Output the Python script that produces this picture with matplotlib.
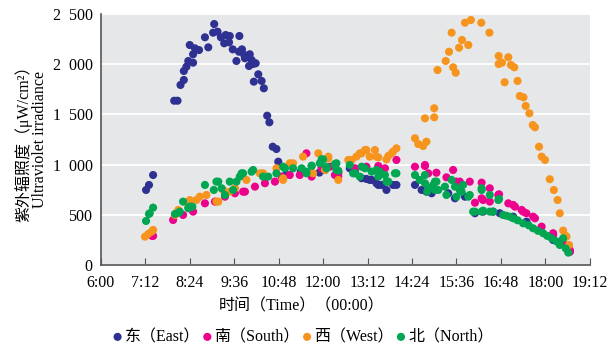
import matplotlib
matplotlib.use("Agg")
from matplotlib import pyplot as plt
from matplotlib.ticker import FuncFormatter
import numpy as np

# time in decimal hours, irradiance in uW/cm2
east_t = [7.22, 7.30, 7.41, 7.98, 8.07, 8.15, 8.24, 8.24, 8.31, 8.36, 8.40, 8.49, 8.49, 8.54,
          8.65, 8.81, 8.90, 9.03, 9.06, 9.15, 9.24, 9.33, 9.37, 9.46, 9.48, 9.56, 9.66, 9.73,
          9.74, 9.81, 9.87, 9.89, 10.00, 10.02, 10.07, 10.11, 10.13, 10.18, 10.25, 10.34, 10.40,
          10.49, 10.55, 10.64, 10.74, 10.79, 11.00, 11.40, 11.90, 12.05, 12.41,
          12.72, 12.81, 12.86, 13.04, 13.17, 13.26, 13.31, 13.44, 13.49, 13.58, 13.71, 13.89,
          13.98, 14.48, 14.66, 14.79, 14.93, 15.38, 15.56, 15.83, 16.10, 16.32, 16.59, 16.77,
          17.13, 17.49, 17.85, 18.21, 18.66]
east_v = [747, 797, 896, 1636, 1636, 1793, 1843, 1932, 1975, 2032, 2191, 2099, 2015, 2158,
          2141, 2268, 2168, 2314, 2400, 2324, 2268, 2208, 2291, 2218, 2281, 2148, 2032, 2124,
          2281, 2148, 2092, 2059, 1982, 2099, 2042, 2002, 1826, 2009, 1899, 1833, 1760,
          1487, 1421, 1178, 1155, 1029, 900, 930, 920, 946, 929,
          963, 946, 929, 864, 857, 847, 847, 814, 797, 797, 747, 797,
          797, 797, 747, 730, 714, 714, 664, 680, 515, 531, 531, 515,
          481, 431, 349, 249, 132]

south_t = [7.38, 7.41, 7.95, 8.22, 8.49, 8.81, 9.08, 9.35, 9.62, 9.84, 9.89, 10.16, 10.43,
           10.70, 10.88, 11.10, 11.37, 11.55, 11.69, 11.96, 12.18, 12.32, 12.41,
           12.41, 12.86, 13.17, 13.49, 13.67, 13.98, 14.48, 14.75, 14.75, 14.84, 15.06, 15.33,
           15.51, 15.60, 15.69, 15.96, 16.28, 16.50,
           16.10, 16.32, 16.28, 16.50, 16.73, 16.75, 17.00, 17.13, 17.18, 17.36, 17.40, 17.49,
           17.67, 17.72, 17.90, 18.21, 18.21, 18.44, 18.48, 18.66, 18.66]
south_v = [290, 289, 448, 498, 531, 614, 631, 680, 714, 730, 730, 780, 814,
           830, 880, 896, 896, 1112, 880, 963, 979, 896, 880,
           913, 963, 979, 986, 963, 1046, 979, 986, 996, 913, 919, 873,
           946, 830, 830, 830, 820, 764,
           620, 647, 664, 631, 697, 704, 614, 598, 581, 548, 531, 515,
           481, 465, 382, 316, 299, 232, 216, 149, 132]

west_t = [7.19, 7.28, 7.37, 7.41, 8.00, 8.09, 8.36, 8.40, 8.58, 8.67, 8.85, 9.12, 9.17, 9.30,
          9.48, 9.62, 9.93, 10.29, 10.38, 10.74, 10.92, 10.92, 11.10, 11.19, 11.46, 11.73,
          11.87, 12.05, 12.14, 12.14, 12.41,
          12.68, 12.77, 12.90, 12.99, 13.04, 13.13, 13.17, 13.26, 13.40, 13.44, 13.49, 13.71,
          13.76, 13.85, 13.89, 13.98,
          14.48, 14.57, 14.70, 14.79, 14.75, 15.00, 15.00, 15.09, 15.31, 15.51, 15.58, 15.40,
          15.67, 15.75, 15.92, 15.47, 15.83, 15.99, 16.27, 16.49, 16.74, 16.74, 16.83, 17.00,
          17.07, 17.16, 16.90, 17.25, 17.31, 17.41, 17.47, 17.57, 17.66, 17.72, 17.83, 17.90,
          17.99, 18.12, 18.23, 18.33, 18.39, 18.48, 18.55, 18.57, 18.64]
west_v = [282, 309, 332, 349, 498, 548, 581, 647, 647, 680, 697, 631, 631, 747,
          730, 764, 847, 913, 913, 963, 864, 847, 1013, 1013, 1079, 913,
          1112, 946, 1079, 1062, 847,
          1046, 1046, 1079, 1112, 1112, 1145, 1145, 1079, 1145, 1079, 1072, 1052,
          1086, 1112, 1129, 1162,
          1262, 1205, 1185, 1228, 1461, 1471, 1561, 1942, 2032, 1969, 1915, 2124,
          2164, 2241, 2191, 2314, 2413, 2440, 2413, 2314, 2082, 2002, 2015, 2069,
          1992, 1969, 1820, 1833, 1683, 1670, 1584, 1511, 1394, 1371, 1178, 1079,
          1046, 854, 747, 647, 515, 342, 289, 282, 199]

north_t = [7.22, 7.30, 7.32, 7.41, 8.00, 8.11, 8.13, 8.22, 8.36, 8.40, 8.47, 8.81, 9.05, 9.12,
           9.17, 9.26, 9.35, 9.48, 9.57, 9.66, 9.75, 9.80, 9.84, 10.07, 10.11, 10.38, 10.52,
           10.74, 10.92, 10.97, 11.19, 11.42, 11.55, 11.55, 11.69, 11.69, 11.91, 11.96, 12.00,
           12.09, 12.09, 12.32, 12.32, 12.36, 12.41, 12.36,
           12.72, 12.81, 12.86, 13.04, 12.99, 13.13, 13.31, 13.44, 13.49, 13.53, 13.67, 13.71,
           13.76, 13.94, 13.98,
           14.48, 14.61, 14.75, 14.75, 14.81, 14.84, 14.97, 15.02, 15.06, 15.02, 15.11, 15.29,
           15.33, 15.47, 15.56, 15.60, 15.69, 15.74, 15.78, 15.92, 15.96, 16.28, 16.28, 16.50,
           16.73, 16.75,
           16.05, 16.10, 16.28, 16.32, 16.50, 16.59, 16.86, 16.95, 17.05, 17.13, 17.25, 17.40,
           17.55, 17.67, 17.80, 17.94, 18.05, 18.17, 18.30, 18.39, 18.48, 18.55, 18.62]
north_v = [438, 508, 515, 571, 508, 521, 531, 631, 565, 581, 581, 797, 747, 830,
           830, 764, 697, 830, 747, 830, 880, 913, 913, 929, 946, 880, 880,
           913, 979, 963, 963, 963, 913, 929, 989, 986, 1013, 1052, 1052,
           979, 963, 996, 1006, 946, 939, 1013,
           996, 913, 913, 979, 880, 963, 929, 946, 880, 929, 896, 830,
           830, 913, 913,
           896, 847, 896, 814, 730, 764, 797, 830, 830, 747, 747, 780,
           697, 847, 780, 680, 747, 730, 797, 680, 697, 747, 764, 697,
           647, 657,
           531, 531, 531, 541, 531, 531, 498, 490, 480, 465, 445, 415,
           395, 365, 340, 316, 290, 266, 235, 199, 266, 165, 123]

series = [
    ("东（East）", east_t, east_v, "#2e3192"),
    ("南（South）", south_t, south_v, "#ec008c"),
    ("西（West）", west_t, west_v, "#f7941d"),
    ("北（North）", north_t, north_v, "#00a651"),
]

plt.rcParams['font.family'] = ['Liberation Serif', 'Noto Sans CJK SC']
plt.rcParams['font.size'] = 11.5

fig = plt.figure(figsize=(6.15, 3.5), dpi=100)
ax = fig.add_axes([0.164, 0.243, 0.795, 0.717])
ax.set_facecolor("#e6e7e8")

for name, t, v, c in series:
    ax.scatter(t, v, s=34, color=c, edgecolors="none", label=name, zorder=3)

ax.set_xlim(6, 19.2)
ax.set_ylim(0, 2500)
xt = np.arange(6, 19.21, 1.2)
ax.set_xticks(xt)
ax.set_xticklabels(["%d:%02d" % (int(h + 1e-6), round((h - int(h + 1e-6)) * 60)) for h in xt])
ax.set_yticks(np.arange(0, 2501, 500))
ax.yaxis.set_major_formatter(FuncFormatter(lambda v, p: f"{int(v):,}".replace(",", "\u2002")))
ax.grid(axis="y", color="white", lw=1.3, zorder=1)
ax.set_axisbelow(True)

for s in ["top", "right"]:
    ax.spines[s].set_visible(False)
for s in ["left", "bottom"]:
    ax.spines[s].set_color("#555555")
    ax.spines[s].set_linewidth(1.2)
ax.tick_params(axis="x", direction="in", length=5, color="#555555", pad=7)
ax.tick_params(axis="y", length=0, pad=6)

ax.set_xlabel("时间（Time）（00:00）")
ax.xaxis.set_label_coords(0.41, -0.135)
ax.set_ylabel("紫外辐照度（μW/cm²）\nUltraviolet irradiance", labelpad=3, linespacing=1.0)

fig.legend(loc="center", bbox_to_anchor=(0.491, 0.037), ncol=4, frameon=False,
           handletextpad=0.0, columnspacing=0.0, handlelength=0.9, borderaxespad=0.0)

fig.savefig("out.png", dpi=100)
